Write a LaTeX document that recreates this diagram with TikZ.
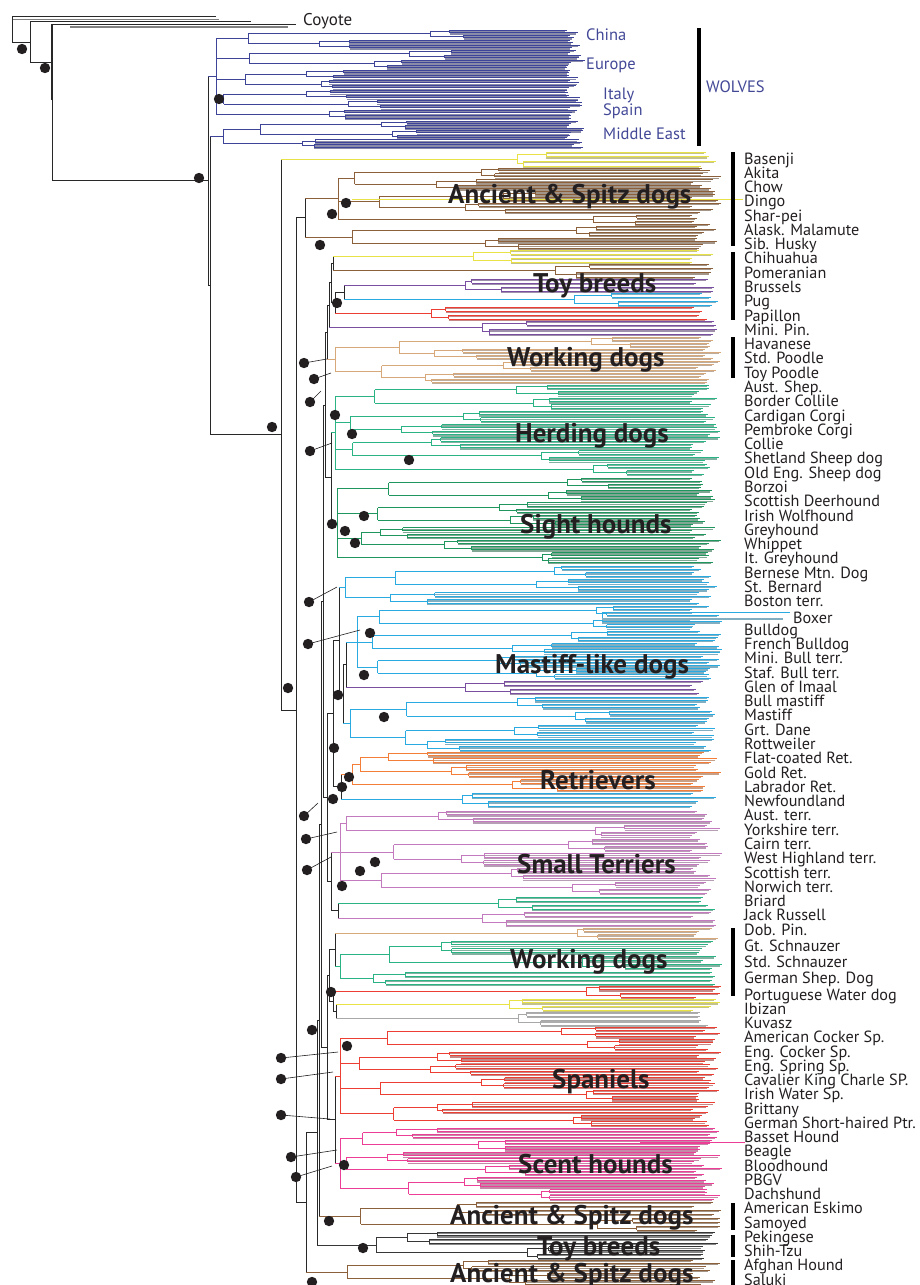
\documentclass[tikz,border=0pt]{standalone}
\usepackage{fontspec}
\setmainfont{PT Sans}
\usetikzlibrary{calc}

\definecolor{wolfc}{RGB}{62,68,152}
\definecolor{wolftext}{RGB}{66,72,150}
\definecolor{yelc}{RGB}{232,226,70}
\definecolor{brownc}{RGB}{139,96,58}
\definecolor{purplec}{RGB}{122,78,160}
\definecolor{cyanc}{RGB}{41,171,226}
\definecolor{redc}{RGB}{237,62,52}
\definecolor{tanc}{RGB}{214,168,122}
\definecolor{greenc}{RGB}{42,180,132}
\definecolor{sightc}{RGB}{32,150,95}
\definecolor{orangec}{RGB}{244,125,56}
\definecolor{lilacc}{RGB}{196,122,190}
\definecolor{grayc}{RGB}{168,168,168}
\definecolor{pinkc}{RGB}{236,62,150}
\definecolor{darkc}{RGB}{55,55,55}
\definecolor{spinec}{RGB}{40,40,40}
\definecolor{textc}{RGB}{35,31,32}

\tikzset{
  br/.style={line width=1pt},
  pale/.style={#1!45!gray!75!white, line width=1.3pt},
}

% one leaf: coloured line with a pale twin under it
\newcommand{\leaf}[3]{%
  \pgfmathsetmacro{\lfe}{\leafend+rnd*\leafvar}%
  \draw[pale=#3] (#1,#2+1.4) -- (\lfe-2,#2+1.4);%
  \draw[br,#3] (#1,#2) -- (\lfe,#2);%
}
% clade: y top, y bottom, colour, root x, clusters of four, name
\newcommand{\clade}[6]{%
  \pgfmathsetmacro{\lsp}{(#2-#1)/(4*#5-1)}%
  \pgfmathtruncatemacro{\npair}{(#5+1)/2}%
  \foreach \pp in {1,...,\npair}{%
    \pgfmathtruncatemacro{\two}{(2*\pp < #5+0.5) ? 1 : 0}%
    \pgfmathsetmacro{\sx}{(\two==1) ? #4+6+rnd*\pairvar : #4}%
    \pgfmathsetmacro{\pa}{#1+8*(\pp-1)*\lsp}%
    \foreach \cl in {0,...,\two}{%
      \pgfmathsetmacro{\ya}{\pa+4*\cl*\lsp}%
      \pgfmathsetmacro{\cx}{\sx+18+rnd*max(0,\nodemax-\sx-18)}%
      \pgfmathsetmacro{\da}{\cx+5+rnd*40}%
      \pgfmathsetmacro{\db}{\cx+5+rnd*40}%
      \leaf{\da}{\ya}{#3}\leaf{\da}{\ya+\lsp}{#3}%
      \leaf{\db}{\ya+2*\lsp}{#3}\leaf{\db}{\ya+3*\lsp}{#3}%
      \draw[br,#3] (\da,\ya) -- (\da,\ya+\lsp);%
      \draw[br,#3] (\db,\ya+2*\lsp) -- (\db,\ya+3*\lsp);%
      \draw[br,#3] (\da,\ya+0.5*\lsp) -- (\cx,\ya+0.5*\lsp) -- (\cx,\ya+2.5*\lsp) -- (\db,\ya+2.5*\lsp);%
      \draw[br,#3] (\sx,\ya+1.5*\lsp) -- (\cx,\ya+1.5*\lsp);%
    }%
    \ifnum\two=1
      \draw[br,#3] (\sx,\pa+1.5*\lsp) -- (\sx,\pa+5.5*\lsp);%
      \draw[br,#3] (#4,\pa+3.5*\lsp) -- (\sx,\pa+3.5*\lsp);%
    \fi
  }%
  \pgfmathsetmacro{\rt}{(#5==1) ? #1+1.5*\lsp : #1+3.5*\lsp}%
  \pgfmathsetmacro{\rb}{(mod(#5,2)==1) ? #1+(4*#5-2.5)*\lsp : #1+(4*#5-4.5)*\lsp}%
  \draw[br,#3] (#4,\rt) -- (#4,\rb);%
  \coordinate (#6) at (#4,{(\rt+\rb)/2});%
  \expandafter\gdef\csname clr-#6\endcsname{#3}%
}
% inner node: name, x, upper child, lower child
\newcommand{\joinat}[4]{%
  \coordinate (#1-a) at (#2,0 |- #3);%
  \coordinate (#1-b) at (#2,0 |- #4);%
  \draw[br,spinec] (#1-a) -- (#1-b);%
  \edef\tmpc{\csname clr-#3\endcsname}\draw[br,color=\tmpc] (#1-a) -- (#3);%
  \edef\tmpc{\csname clr-#4\endcsname}\draw[br,color=\tmpc] (#1-b) -- (#4);%
  \coordinate (#1) at ($(#1-a)!.5!(#1-b)$);%
  \expandafter\gdef\csname clr-#1\endcsname{spinec}%
}

\begin{document}
\begin{tikzpicture}[x=1pt, y=-1pt,
    breed/.style={anchor=base west, inner sep=0pt, text=textc, font=\fontsize{16.2}{16.2}\selectfont},
    group/.style={anchor=base west, inner sep=0pt, text=textc, font=\bfseries\fontsize{27}{27}\selectfont},
    wolfname/.style={anchor=base west, inner sep=0pt, text=wolftext, font=\fontsize{16.5}{16.5}\selectfont},
    bar/.style={line width=4pt, black},
    supdot/.style={fill=textc},
    lead/.style={line width=0.6pt, textc}
]
    \useasboundingbox (0,0) rectangle (919,1285);
    \pgfmathsetseed{11}

    % Wolves
    \def\leafend{566}\def\leafvar{20}\def\nodemax{440}\def\pairvar{40}
    \clade{30}{118}{wolfc}{216}{9}{wa}
    \clade{121}{147}{wolfc}{223}{3}{wb}

    % Dogs
    \def\leafend{692}\def\leafvar{30}\def\nodemax{600}\def\pairvar{70}
    \clade{152}{166}{yelc}{478}{1}{basenji}
    \clade{168}{224}{brownc}{338}{5}{ancup}
    \clade{226}{248}{brownc}{329}{2}{anclow}
    \clade{250}{262}{yelc}{345}{1}{ma}
    \clade{264}{277}{brownc}{383}{1}{mb}
    \clade{279}{291}{purplec}{420}{1}{mc}
    \clade{293}{305}{cyanc}{470}{1}{md}
    \clade{307}{319}{redc}{373}{1}{me}
    \clade{321}{334}{purplec}{450}{1}{mf}
    \clade{337}{382}{tanc}{335}{4}{mg}
    \clade{385}{474}{greenc}{335}{7}{mh}
    \clade{478}{562}{sightc}{337}{7}{mi}
    \clade{566}{603}{cyanc}{345}{3}{mj}
    \clade{606}{678}{cyanc}{357}{6}{mk}
    \clade{681}{693}{purplec}{380}{1}{ml}
    \clade{697}{750}{cyanc}{350}{4}{mm}
    \clade{752}{790}{orangec}{352}{3}{mn}
    \clade{793}{806}{cyanc}{420}{1}{mo}
    \clade{811}{893}{lilacc}{340}{6}{mp}
    \clade{897}{909}{greenc}{388}{1}{mq}
    \clade{912}{925}{lilacc}{345}{1}{mr}
    \clade{928}{938}{tanc}{455}{1}{ms}
    \clade{941}{984}{greenc}{340}{3}{mt}
    \clade{986}{997}{redc}{490}{1}{mu}
    \clade{999}{1010}{yelc}{470}{1}{mv}
    \clade{1012}{1025}{grayc}{420}{1}{mw}
    \clade{1027}{1125}{redc}{340}{8}{mx}
    \clade{1128}{1199}{pinkc}{340}{6}{my}
    \clade{1202}{1230}{brownc}{337}{2}{ba}
    \clade{1232}{1258}{darkc}{369}{2}{bb}
    \clade{1260}{1284}{brownc}{317}{2}{bc}

    % long leaves
    \draw[br,yelc] (352,199) -- (743,199);
    \draw[br,cyanc] (602,612) -- (602,619);
    \draw[br,cyanc] (602,612) -- (790,612);
    \draw[pale=cyanc] (602,619) -- (783,619);
    \draw[br,pinkc] (640,1142) -- (745,1142);

    % backbone
    \joinat{janc}{305}{ancup}{anclow}
    \joinat{jt1}{333}{ma}{mb}
    \joinat{jt2}{344}{mc}{md}
    \joinat{jt3}{335}{jt2}{me}
    \joinat{jt4}{331}{jt1}{jt3}
    \joinat{jt5}{329}{jt4}{mf}
    \joinat{jw1}{327}{jt5}{mg}
    \joinat{jhs}{331}{mh}{mi}
    \joinat{jup}{325}{jw1}{jhs}
    \joinat{jm1}{346}{mk}{ml}
    \joinat{jm2}{343}{jm1}{mm}
    \joinat{jm3}{339}{mj}{jm2}
    \joinat{jrt}{341}{mn}{mo}
    \joinat{jmr}{333}{jm3}{jrt}
    \joinat{jst}{338}{mq}{mr}
    \joinat{jtr}{331}{mp}{jst}
    \joinat{jmid}{327}{jmr}{jtr}
    \joinat{jwk}{335}{ms}{mt}
    \joinat{jgr}{336}{mv}{mw}
    \joinat{jrg}{333}{mu}{jgr}
    \joinat{jwr}{329}{jwk}{jrg}
    \joinat{jss}{335}{mx}{my}
    \joinat{jlw}{327}{jwr}{jss}
    \joinat{je}{323}{jup}{jmid}
    \joinat{jn}{321}{je}{jlw}
    \joinat{je2}{319}{jn}{ba}
    \joinat{jd}{317}{je2}{bb}
    \joinat{jc}{306}{jd}{bc}
    \joinat{jb}{296}{janc}{jc}
    \joinat{ja}{281}{basenji}{jb}
    \joinat{jwd}{210}{wb}{ja}
    \joinat{jwolf}{208}{wa}{jwd}

    % root and coyote
    \draw[br,spinec] (12,16.7) -- (216,16.7);
    \draw[gray, line width=1.6pt] (12,19.3) -- (219,19.3);
    \draw[br,spinec] (30,21.7) -- (251,21.7);
    \draw[br,spinec] (52,24) -- (296,24);
    \draw[gray, line width=1.6pt] (70,26.7) -- (288,26.7);
    \draw[br,spinec] (12.5,16.7) -- (12.5,42) -- (30,42);
    \draw[br,spinec] (30,21.7) -- (30,62) -- (52,62);
    \draw[spinec, line width=1.6pt] (52,24) -- (52,100);
    \draw[br,spinec] (52,24) -- (52,0 |- jwolf) -- (jwolf);
    \node[anchor=base west, inner sep=0pt, text=textc, font=\fontsize{17}{17}\selectfont] (coyote) at (303,25) {Coyote};

    % wolves labels
    \node[wolfname] (china) at (586,40) {China};
    \node[wolfname] (europe) at (586,69) {Europe};
    \node[wolfname] (italy) at (603,99) {Italy};
    \node[wolfname] (spain) at (603,115) {Spain};
    \node[wolfname] (mideast) at (603,139) {Middle East};
    \node[wolfname] (wolves) at (706,92) {WOLVES};
    \draw[bar] (699,28) -- (699,146);

    % group labels
    \node[group] (g1) at (448,203) {Ancient \& Spitz dogs};
    \node[group] (g2) at (533,292) {Toy breeds};
    \node[group] (g3) at (507,366) {Working dogs};
    \node[group] (g4) at (515,442) {Herding dogs};
    \node[group] (g5) at (520,533) {Sight hounds};
    \node[group] (g6) at (495,673) {Mastiff-like dogs};
    \node[group] (g7) at (540,789) {Retrievers};
    \node[group] (g8) at (517,873) {Small Terriers};
    \node[group] (g9) at (510,968) {Working dogs};
    \node[group] (g10) at (552,1088) {Spaniels};
    \node[group] (g11) at (518,1173) {Scent hounds};
    \node[group] (g12) at (450,1224) {Ancient \& Spitz dogs};
    \node[group] (g13) at (537,1255) {Toy breeds};
    \node[group] (g14) at (450,1282) {Ancient \& Spitz dogs};

    % breed names
    \foreach \nm [count=\i from 0] in {Basenji, Akita, Chow, Dingo, Shar-pei, Alask. Malamute, Sib. Husky, Chihuahua, Pomeranian, Brussels, Pug, Papillon, Mini. Pin., Havanese, Std. Poodle, Toy Poodle, Aust. Shep., Border Collile, Cardigan Corgi, Pembroke Corgi, Collie, Shetland Sheep dog, Old Eng. Sheep dog, Borzoi, Scottish Deerhound, Irish Wolfhound, Greyhound, Whippet, It. Greyhound, Bernese Mtn. Dog, St. Bernard, Boston terr.}
        \node[breed] (n\i) at (744,164+14.28*\i) {\nm};
    \node[breed] (n32) at (793,623) {Boxer};
    \foreach \nm [count=\i from 33] in {Bulldog, French Bulldog, Mini. Bull terr., Staf. Bull terr., Glen of Imaal, Bull mastiff, Mastiff, Grt. Dane, Rottweiler, Flat-coated Ret., Gold Ret., Labrador Ret., Newfoundland, Aust. terr., Yorkshire terr., Cairn terr., West Highland terr., Scottish terr., Norwich terr., Briard, Jack Russell}
        \node[breed] (n\i) at (744,164+14.28*\i) {\nm};
    \foreach \nm [count=\i from 54] in {Dob. Pin., Gt. Schnauzer, Std. Schnauzer, German Shep. Dog}
        \node[breed] (n\i) at (744,935+16*\i-864) {\nm};
    \foreach \nm [count=\i from 58] in {Portuguese Water dog, Ibizan, Kuvasz, American Cocker Sp., Eng. Cocker Sp., Eng. Spring Sp., Cavalier King Charle SP., Irish Water Sp., Brittany, German Short-haired Ptr., Basset Hound, Beagle, Bloodhound, PBGV, Dachshund, American Eskimo, Samoyed, Pekingese, Shih-Tzu, Afghan Hound, Saluki}
        \node[breed] (n\i) at (744,1000+14.25*\i-826.5) {\nm};

    % side bars
    \draw[bar] (733,152) -- (733,246);
    \draw[bar] (733,252) -- (733,320);
    \draw[bar] (733,337) -- (733,378);
    \draw[bar] (733,928) -- (733,996);
    \draw[bar] (733,1203) -- (733,1230);
    \draw[bar] (733,1235) -- (733,1257);
    \draw[bar] (733,1260) -- (733,1285);

    % support dots with leaders
    \foreach \dx/\dy/\tx/\ty in {304/363/327/359, 314/379/331/373, 310/402/321/391, 310/451/332/443, 309/602/337/587, 308/644/360/630, 304/816/318/803, 306/839/337/832, 307/870/331/857, 281/1058/338/1052, 281/1079/333/1072, 281/1115/330/1119, 291/1157/337/1150, 296/1177/332/1166}
        \draw[lead] (\dx,\dy) -- (\tx,\ty);
    \foreach \dx/\dy in {22/49, 45/68, 219/99, 199/178, 272/427, 288/688, 320/245, 332/214, 346/203, 337/303, 335/415, 352/434, 409/460, 332/524, 364/516, 345/531, 355/543, 370/633, 364/675, 338/695, 384/717, 334/748, 349/777, 342/787, 333/799, 375/862, 360/871, 342/886, 331/992, 312/1030, 347/1046, 344/1165, 329/1221, 363/1248, 312/1282, 304/363, 314/379, 310/402, 310/451, 309/602, 308/644, 304/816, 306/839, 307/870, 281/1058, 281/1079, 281/1115, 291/1157, 296/1177}
        \fill[supdot] (\dx,\dy) circle[radius=5.2pt];

\end{tikzpicture}
\end{document}
